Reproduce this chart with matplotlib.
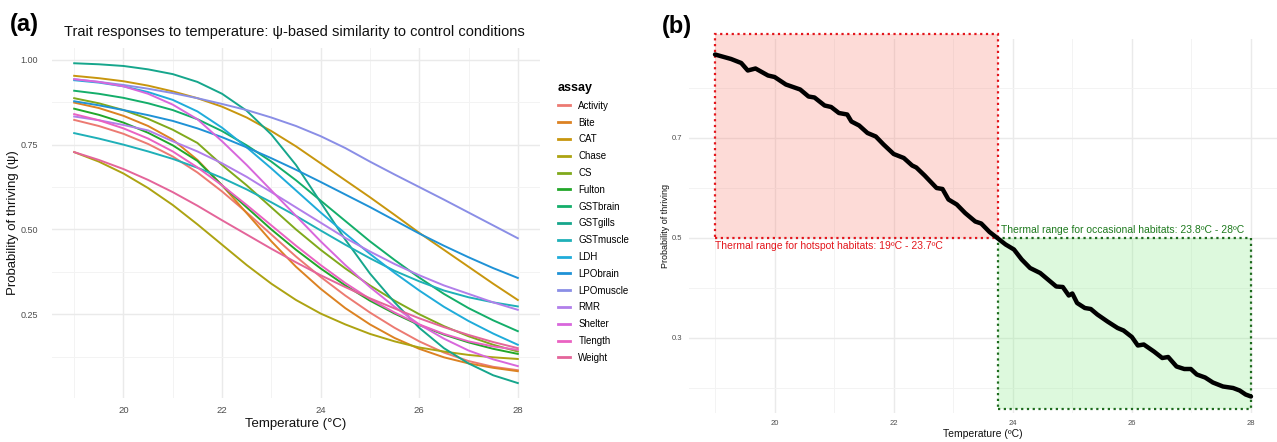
import matplotlib
matplotlib.use('Agg')
import matplotlib.pyplot as plt
from matplotlib import font_manager
from matplotlib.colors import to_rgba
from matplotlib.patches import Rectangle
from matplotlib.ticker import MultipleLocator, FixedLocator, FormatStrFormatter

plt.rcParams['font.family'] = ['Liberation Sans', 'DejaVu Sans']

# narrow font for the panel (b) annotations, if there is one
names = {f.name for f in font_manager.fontManager.ttflist}
if 'Liberation Sans Narrow' in names:
    narrow, nsize = 'Liberation Sans Narrow', 8.8
else:
    narrow, nsize = 'Liberation Sans', 7.5

# ---- panel (a) data: psi per assay ----
temps_a = [19, 19.5, 20, 20.5, 21, 21.5, 22, 22.5, 23, 23.5,
           24, 24.5, 25, 25.5, 26, 26.5, 27, 27.5, 28]

assays = ['Activity', 'Bite', 'CAT', 'Chase', 'CS', 'Fulton', 'GSTbrain',
          'GSTgills', 'GSTmuscle', 'LDH', 'LPObrain', 'LPOmuscle', 'RMR',
          'Shelter', 'Tlength', 'Weight']

activity = [.823, .805, .782, .752, .715, .668, .612, .550, .485, .420,
            .360, .305, .255, .210, .170, .137, .112, .095, .085]
bite = [.874, .858, .835, .805, .765, .705, .630, .548, .465, .390,
        .325, .268, .220, .180, .148, .123, .105, .092, .082]
cat = [.953, .946, .937, .924, .907, .887, .862, .830, .790, .745,
       .695, .645, .595, .543, .490, .440, .390, .340, .292]
chase = [.728, .700, .665, .622, .572, .515, .455, .395, .340, .292,
         .252, .220, .192, .170, .152, .140, .130, .123, .118]
cs = [.887, .872, .852, .826, .794, .755, .690, .630, .565, .500,
      .440, .385, .335, .290, .250, .215, .185, .160, .140]
fulton = [.856, .838, .815, .785, .748, .702, .630, .565, .500, .440,
          .385, .335, .290, .252, .218, .190, .167, .148, .133]
gstbrain = [.909, .900, .888, .872, .852, .825, .790, .748, .700, .645,
            .585, .525, .465, .410, .358, .310, .268, .232, .200]
gstgills = [.990, .987, .982, .972, .958, .935, .900, .850, .780, .690,
            .580, .470, .370, .285, .210, .150, .105, .070, .047]
gstmuscle = [.784, .768, .750, .730, .708, .682, .652, .618, .580, .540,
             .497, .455, .415, .378, .347, .320, .300, .285, .273]
ldh = [.940, .933, .922, .905, .882, .848, .800, .742, .680, .615,
       .550, .488, .428, .372, .320, .272, .230, .193, .160]
lpobrain = [.878, .866, .852, .837, .820, .798, .772, .742, .710, .676,
            .640, .603, .566, .527, .488, .452, .418, .386, .357]
lpomuscle = [.943, .935, .926, .915, .902, .887, .870, .852, .830, .805,
             .775, .740, .700, .662, .625, .588, .550, .512, .474]
rmr = [.833, .822, .808, .792, .760, .730, .695, .655, .610, .565,
       .520, .475, .435, .398, .365, .335, .310, .285, .263]
shelter = [.943, .935, .922, .900, .868, .825, .760, .690, .615, .540,
           .465, .395, .330, .272, .220, .178, .143, .117, .097]
tlength = [.840, .822, .798, .768, .730, .683, .630, .572, .512, .452,
           .395, .342, .295, .255, .220, .192, .170, .155, .145]
weight = [.728, .705, .678, .646, .610, .570, .527, .485, .443, .403,
          .365, .330, .297, .267, .238, .212, .189, .168, .150]

psi_a = [activity, bite, cat, chase, cs, fulton, gstbrain, gstgills,
         gstmuscle, ldh, lpobrain, lpomuscle, rmr, shelter, tlength, weight]

colors = ['#EC7A72', '#DC8222', '#C8960E', '#ADA312', '#80A91C', '#22A72A',
          '#14AE6A', '#16A68C', '#1FB0B8', '#20ACDA', '#1F92D6', '#8A8EE6',
          '#B17FEA', '#D867DC', '#EA62C2', '#E4659A']

# ---- panel (b) data: overall probability of thriving ----
temps_b = [19.0, 19.27, 19.44, 19.55, 19.68, 19.89, 20.0, 20.19, 20.43, 20.57,
           20.67, 20.84, 20.95, 21.08, 21.22, 21.29, 21.42, 21.56, 21.7, 21.83,
           22.0, 22.17, 22.31, 22.38, 22.52, 22.72, 22.82, 22.92, 23.06, 23.2,
           23.37, 23.47, 23.61, 23.74, 23.88, 24.02, 24.15, 24.29, 24.46, 24.56,
           24.73, 24.84, 24.94, 25.0, 25.08, 25.21, 25.31, 25.42, 25.59, 25.76,
           25.86, 26.0, 26.1, 26.2, 26.37, 26.51, 26.61, 26.75, 26.88, 26.99,
           27.09, 27.23, 27.36, 27.53, 27.7, 27.81, 27.91, 28.0]
psi_b = [.867, .858, .850, .835, .839, .825, .822, .807, .797, .783,
         .781, .765, .762, .750, .747, .733, .725, .710, .703, .687,
         .668, .660, .645, .641, .625, .600, .598, .577, .567, .550,
         .533, .529, .512, .500, .487, .477, .457, .440, .430, .420,
         .403, .402, .385, .389, .370, .360, .358, .347, .333, .320,
         .315, .302, .285, .287, .273, .260, .262, .243, .238, .238,
         .227, .221, .211, .203, .200, .195, .187, .183]

threshold = 0.5
hot_range = (19.0, 23.75)
occ_range = (23.75, 28.0)
hot_top = 0.908
occ_bottom = 0.158
yticks_b = [0.3, 0.5, 0.7]
yminor_b = [0.2, 0.4, 0.6, 0.8]

W, H = 1277, 442
fig = plt.figure(figsize=(W / 100, H / 100), dpi=100)


def style(ax):
    ax.set_axisbelow(True)
    for s in ax.spines.values():
        s.set_visible(False)
    ax.grid(True, which='major', color='#EAEAEA', lw=1.0)
    ax.grid(True, which='minor', color='#F3F3F3', lw=0.7)
    ax.tick_params(which='both', length=0, colors='#4D4D4D')


# ---------------- panel (a) ----------------
ax1 = fig.add_axes([52 / W, 1 - 398 / H, 488 / W, 350 / H])
for name, vals, col in zip(assays, psi_a, colors):
    ax1.plot(temps_a, vals, color=col, lw=1.4, label=name)
ax1.set_xlim(18.55, 28.45)
ax1.set_ylim(0.003, 1.035)
ax1.xaxis.set_major_locator(MultipleLocator(2))
ax1.xaxis.set_minor_locator(MultipleLocator(1))
ax1.yaxis.set_major_locator(MultipleLocator(0.25))
ax1.yaxis.set_minor_locator(MultipleLocator(0.125))
ax1.yaxis.set_major_formatter(FormatStrFormatter('%.2f'))
style(ax1)
ax1.tick_params(axis='y', labelsize=6.5, pad=10)
ax1.tick_params(axis='x', labelsize=6.8, pad=6)
ax1.set_xlabel('Temperature (°C)', fontsize=9.5, color='#111111')
ax1.set_ylabel('Probability of thriving (ψ)', fontsize=9.5, color='#111111')
ax1.xaxis.set_label_coords(0.5, -0.058)
ax1.yaxis.set_label_coords(-0.068, 0.5)

leg = ax1.legend(loc='upper left', bbox_to_anchor=(558 / W, 1 - 82 / H),
                 bbox_transform=fig.transFigure, frameon=False, title='assay',
                 fontsize=7, title_fontproperties={'weight': 'bold', 'size': 9},
                 handlelength=1.2, handletextpad=0.9, labelspacing=0.7,
                 alignment='left', borderpad=0, borderaxespad=0)
for line in leg.get_lines():
    line.set_linewidth(2)

fig.text(10 / W, 1 - 24 / H, '(a)', fontsize=17, fontweight='bold', va='center')
fig.text(64 / W, 1 - 32 / H,
         'Trait responses to temperature: ψ-based similarity to control conditions',
         fontsize=10.5, va='center', color='#111111')

# ---------------- panel (b) ----------------
ax2 = fig.add_axes([689 / W, 1 - 413 / H, 588 / W, 374 / H])
ax2.set_xlim(18.563, 28.437)
ax2.set_ylim(0.15, 0.898)
ax2.xaxis.set_major_locator(MultipleLocator(2))
ax2.xaxis.set_minor_locator(MultipleLocator(1))
ax2.yaxis.set_major_locator(FixedLocator(yticks_b))
ax2.yaxis.set_minor_locator(FixedLocator(yminor_b))
ax2.yaxis.set_major_formatter(FormatStrFormatter('%.1f'))
style(ax2)
ax2.tick_params(axis='both', labelsize=5.5, pad=5)

dots = (0, (1, 1.6))
ax2.add_patch(Rectangle((hot_range[0], threshold), hot_range[1] - hot_range[0],
                        hot_top - threshold, facecolor=to_rgba('salmon', 0.28),
                        edgecolor='#E3161C', ls=dots, lw=1.6, clip_on=False, zorder=1))
ax2.add_patch(Rectangle((occ_range[0], occ_bottom), occ_range[1] - occ_range[0],
                        threshold - occ_bottom, facecolor=to_rgba('lightgreen', 0.3),
                        edgecolor='#1E6B1E', ls=dots, lw=1.6, clip_on=False, zorder=1))
ax2.plot(temps_b, psi_b, color='black', lw=3.2, zorder=3, solid_joinstyle='round',
         solid_capstyle='round')

ax2.text(hot_range[0], threshold - 0.006, 'Thermal range for hotspot habitats: 19ºC - 23.7ºC',
         color='#E3161C', family=narrow, fontsize=nsize, ha='left', va='top')
ax2.text(23.8, threshold + 0.006, 'Thermal range for occasional habitats: 23.8ºC - 28ºC',
         color='#1E7A1E', family=narrow, fontsize=nsize, ha='left', va='bottom')

ax2.set_xlabel('Temperature (ºC)', fontsize=nsize, family=narrow, color='#111111')
ax2.set_ylabel('Probability of thriving', fontsize=6.5, color='#111111')
ax2.xaxis.set_label_coords(0.5, -0.044)
ax2.yaxis.set_label_coords(-0.032, 0.5)

fig.text(662 / W, 1 - 26 / H, '(b)', fontsize=17, fontweight='bold', va='center')

fig.savefig('out.png', dpi=100)
